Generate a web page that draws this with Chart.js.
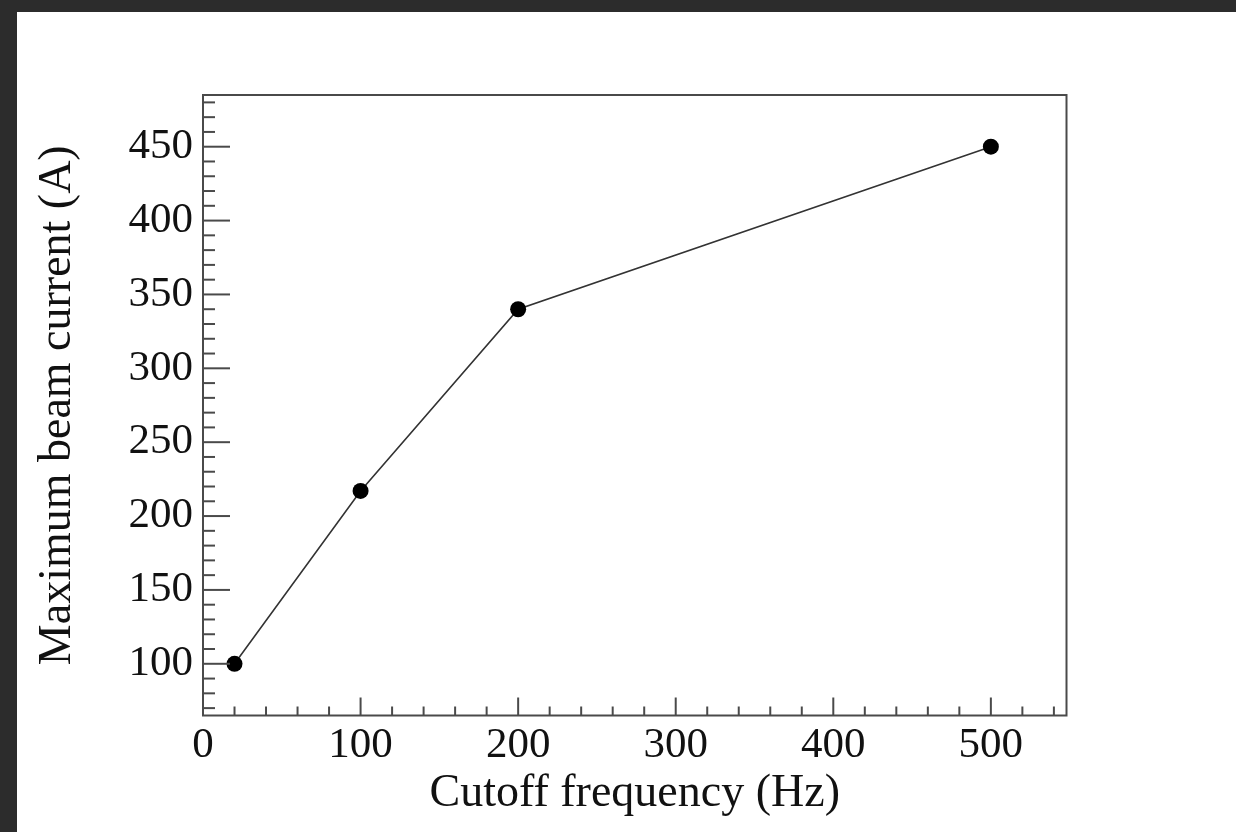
<!DOCTYPE html>
<html>
<head>
<meta charset="utf-8">
<script src="https://cdn.jsdelivr.net/npm/chart.js@4.4.1/dist/chart.umd.min.js"></script>
<style>
  html, body { margin: 0; padding: 0; background: #2c2c2c; width: 1236px; height: 832px; overflow: hidden; }
  #wrap { position: absolute; left: 17px; top: 12px; width: 1219px; height: 820px; background: #ffffff; }
  canvas { display: block; }
</style>
</head>
<body>
<div id="wrap"><canvas id="c" width="1219" height="820"></canvas></div>
<script>
// ---- data ----
const frequencies = [20, 100, 200, 500];          // Hz
const beamCurrent = [100, 217, 340, 450];         // A
const xTickLabels = [0, 100, 200, 300, 400, 500];
const yTickLabels = [100, 150, 200, 250, 300, 350, 400, 450];
const xRange = [0, 548];
const yRange = [65, 485];
const xMinorStep = 20;
const yMinorStep = 10;
const xTitle = 'Cutoff frequency (Hz)';
const yTitle = 'Maximum beam current (A)';

const points = frequencies.map((f, i) => ({ x: f, y: beamCurrent[i] }));

const FONT = "'Liberation Serif', 'DejaVu Serif', serif";
const AXIS_COLOR = '#4a4a4a';

const frameTicks = {
  id: 'frameTicks',
  afterDraw(chart) {
    const { ctx, chartArea: a, scales } = chart;
    const xs = scales.x, ys = scales.y;
    ctx.save();
    ctx.strokeStyle = AXIS_COLOR;
    ctx.lineWidth = 2;
    for (let v = Math.ceil(yRange[0] / yMinorStep) * yMinorStep; v <= yRange[1]; v += yMinorStep) {
      const p = ys.getPixelForValue(v);
      const len = yTickLabels.includes(v) ? 27 : 12;
      ctx.beginPath();
      ctx.moveTo(a.left, p);
      ctx.lineTo(a.left + len, p);
      ctx.stroke();
    }
    for (let v = Math.ceil(xRange[0] / xMinorStep) * xMinorStep; v <= xRange[1]; v += xMinorStep) {
      if (v === xRange[0]) continue;
      const p = xs.getPixelForValue(v);
      const len = xTickLabels.includes(v) ? 18 : 9;
      ctx.beginPath();
      ctx.moveTo(p, a.bottom);
      ctx.lineTo(p, a.bottom - len);
      ctx.stroke();
    }
    ctx.strokeRect(a.left, a.top, a.right - a.left, a.bottom - a.top);
    ctx.restore();
  }
};

new Chart(document.getElementById('c'), {
  type: 'line',
  data: {
    datasets: [{
      data: points,
      borderColor: '#333333',
      borderWidth: 1.6,
      backgroundColor: '#000000',
      pointBackgroundColor: '#000000',
      pointBorderColor: '#000000',
      pointRadius: 8,
      pointBorderWidth: 0,
      tension: 0,
      fill: false
    }]
  },
  options: {
    responsive: false,
    animation: false,
    events: [],
    layout: { padding: { left: 0, top: 83, right: 169.5, bottom: 0 } },
    plugins: { legend: { display: false }, tooltip: { enabled: false } },
    scales: {
      x: {
        type: 'linear',
        min: xRange[0],
        max: xRange[1],
        afterBuildTicks: (s) => { s.ticks = xTickLabels.map(v => ({ value: v })); },
        afterFit: (s) => { s.height = 116.5; },
        grid: { display: false, drawTicks: false },
        border: { display: false },
        ticks: {
          autoSkip: false,
          maxRotation: 0,
          padding: 4,
          color: '#111111',
          font: { family: FONT, size: 43 },
          callback: (v) => String(v)
        },
        title: {
          display: true,
          text: xTitle,
          color: '#111111',
          font: { family: FONT, size: 46 },
          padding: { top: 0, bottom: 10 }
        }
      },
      y: {
        type: 'linear',
        min: yRange[0],
        max: yRange[1],
        afterBuildTicks: (s) => { s.ticks = yTickLabels.map(v => ({ value: v })); },
        afterFit: (s) => { s.width = 186; },
        grid: { display: false, drawTicks: false },
        border: { display: false },
        ticks: {
          autoSkip: false,
          padding: 10,
          color: '#111111',
          font: { family: FONT, size: 43 },
          callback: (v) => String(v)
        },
        title: {
          display: true,
          text: yTitle,
          color: '#111111',
          font: { family: FONT, size: 46 },
          padding: { top: 13, bottom: 0 }
        }
      }
    }
  },
  plugins: [frameTicks]
});
</script>
</body>
</html>
